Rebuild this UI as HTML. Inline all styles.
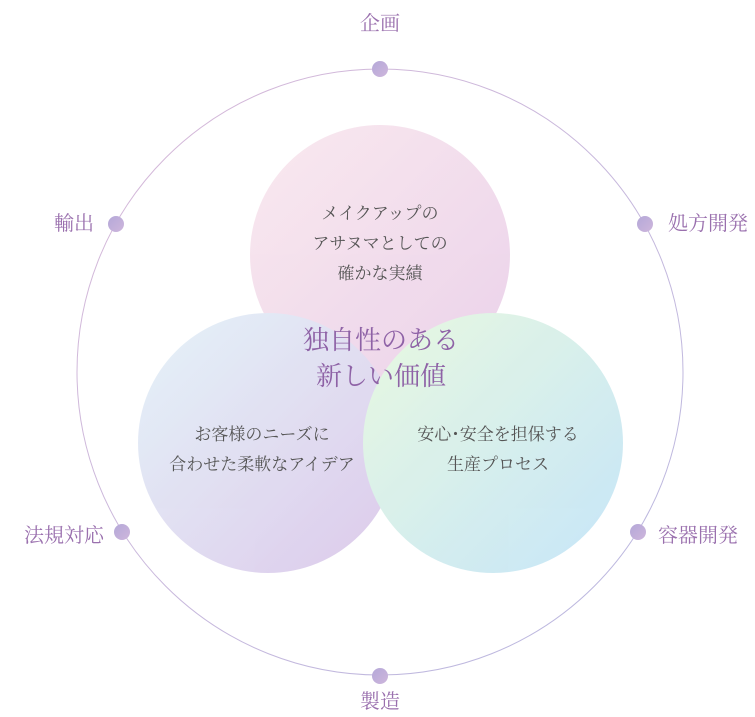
<!DOCTYPE html>
<html><head><meta charset="utf-8"><style>
html,body{margin:0;padding:0;background:#fff;}
svg{display:block}
text{font-family:"Liberation Serif","Noto Serif CJK SC",serif;}
</style></head><body>
<svg width="755" height="717" viewBox="0 0 755 717" xmlns="http://www.w3.org/2000/svg">
<defs>
<linearGradient id="ring" x1="0" y1="0" x2="1" y2="1"><stop offset="0" stop-color="#d8b8d8"/><stop offset="1" stop-color="#b8b8e0"/></linearGradient>
<linearGradient id="gt" x1="0" y1="0" x2="1" y2="1"><stop offset="0" stop-color="#f9e6ec"/><stop offset="1" stop-color="#e8cce8"/></linearGradient>
<linearGradient id="gl" x1="0" y1="0" x2="1" y2="1"><stop offset="0" stop-color="#e2f2f8"/><stop offset="1" stop-color="#d8c2e8"/></linearGradient>
<linearGradient id="gr" x1="0" y1="0" x2="1" y2="1"><stop offset="0" stop-color="#e6f8dc"/><stop offset="1" stop-color="#bee2f8"/></linearGradient>
<linearGradient id="dot" x1="0" y1="0" x2="1" y2="1"><stop offset="0" stop-color="#b4a8d8"/><stop offset="1" stop-color="#ceb6dc"/></linearGradient>
</defs>
<circle cx="380" cy="372" r="303" fill="none" stroke="url(#ring)" stroke-width="1"/>
<g opacity="0.88">
<circle cx="380" cy="255" r="130" fill="url(#gt)"/>
<circle cx="268" cy="443" r="130" fill="url(#gl)"/>
<circle cx="493" cy="443" r="130" fill="url(#gr)"/>
</g>
<g fill="url(#dot)">
<circle cx="380" cy="69" r="8"/><circle cx="645" cy="224" r="8"/><circle cx="638" cy="532" r="8"/>
<circle cx="380" cy="676" r="8"/><circle cx="122" cy="532" r="8"/><circle cx="116" cy="224" r="8"/>
</g>
<g fill="#9a70ae" font-size="20">
<text x="380" y="30" text-anchor="middle">企画</text>
<text x="668" y="230">処方開発</text>
<text x="658" y="542">容器開発</text>
<text x="380" y="708" text-anchor="middle">製造</text>
<text x="104" y="542" text-anchor="end">法規対応</text>
<text x="94" y="230" text-anchor="end">輸出</text>
</g>
<g fill="#555" font-size="17" text-anchor="middle">
<text x="380" y="219">メイクアップの</text>
<text x="380" y="249">アサヌマとしての</text>
<text x="380" y="279">確かな実績</text>
<text x="262" y="440">お客様のニーズに</text>
<text x="262" y="470">合わせた柔軟なアイデア</text>
<text x="498" y="440">安心･安全を担保する</text>
<text x="498" y="470">生産プロセス</text>
</g>
<g fill="#8e62a6" font-size="26" text-anchor="middle">
<text x="381" y="349">独自性のある</text>
<text x="381" y="385">新しい価値</text>
</g>
</svg>
</body></html>
